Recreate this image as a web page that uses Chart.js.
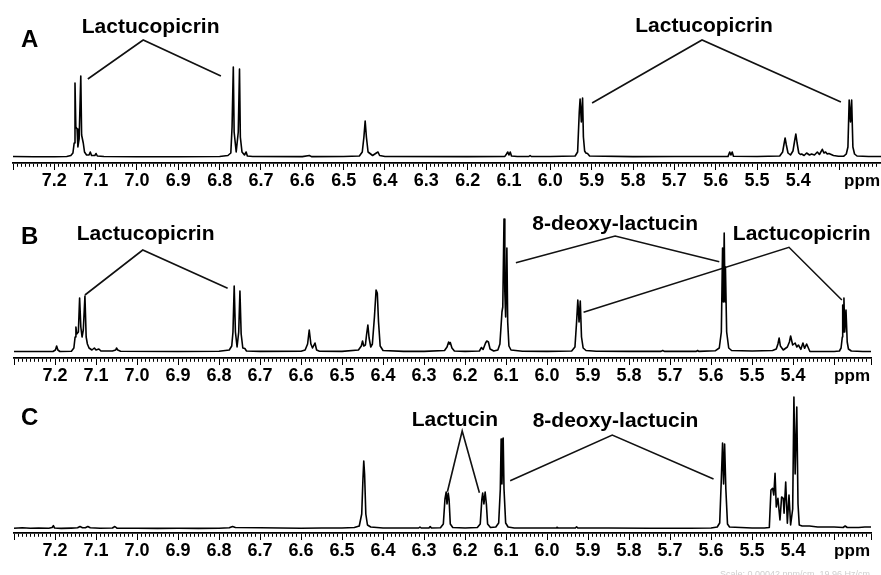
<!DOCTYPE html>
<html><head><meta charset="utf-8">
<script src="https://cdn.jsdelivr.net/npm/chart.js@4.4.1/dist/chart.umd.min.js"></script>
<style>
html,body{margin:0;padding:0;background:#fff;width:881px;height:575px;overflow:hidden;position:relative}
canvas{position:absolute;left:0}
#scale{position:absolute;left:720px;top:569px;font:9px "Liberation Sans",Arial,sans-serif;color:#cfcfcf;white-space:nowrap}
</style></head><body>
<canvas id="cA" width="881" height="195" style="top:0px"></canvas>
<canvas id="cB" width="881" height="190" style="top:195px"></canvas>
<canvas id="cC" width="881" height="190" style="top:385px"></canvas>
<div id="scale">Scale: 0.00042 ppm/cm, 19.96 Hz/cm</div>
<script>
// ---------- values ----------
const tickLabels = ['7.2','7.1','7.0','6.9','6.8','6.7','6.6','6.5','6.4','6.3','6.2','6.1','6.0','5.9','5.8','5.7','5.6','5.5','5.4'];
const unitLabel = 'ppm';
const panelLetters = ['A','B','C'];

// [ppm, intensity]
const specA = [
 [7.300,0.5],[7.250,0.3],[7.200,0.2],[7.170,0.5],
 [7.160,1.5],[7.155,4],[7.152,14],[7.150,74],[7.148,30],[7.145,28],[7.143,10],[7.140,18],[7.136,81],[7.134,22],[7.130,14],[7.127,5],[7.122,2],
 [7.116,2],[7.113,5],[7.110,1.5],[7.102,1.5],[7.099,3.5],[7.096,1],[7.080,0.5],[7.000,0.3],[6.900,0.3],[6.800,0.5],
 [6.780,1.5],[6.773,4],[6.770,30],[6.767,90],[6.765,25],[6.760,5],[6.755,25],[6.752,88],[6.750,20],[6.746,5],[6.740,2],[6.736,5],[6.733,1],
 [6.720,0.5],[6.600,0.4],[6.583,1.5],[6.578,0.4],[6.500,0.5],
 [6.462,1],[6.455,5],[6.451,20],[6.448,36],[6.445,20],[6.441,5],[6.430,1.5],[6.421,4],[6.417,5],[6.413,1.5],[6.400,0.5],
 [6.200,0.4],[6.110,0.6],[6.106,3],[6.103,5],[6.100,2],[6.097,5],[6.094,1],[6.080,0.5],[6.052,0.5],[6.049,1.5],[6.046,0.5],[6.000,0.5],
 [5.940,1],[5.934,5],[5.930,45],[5.928,58],[5.925,35],[5.922,59],[5.920,20],[5.917,6],[5.914,4],[5.910,3.5],[5.905,1],
 [5.800,0.4],[5.700,0.5],[5.570,0.6],[5.566,5],[5.563,2],[5.560,5],[5.557,0.8],[5.500,0.5],
 [5.445,1],[5.438,5],[5.435,12],[5.432,19],[5.429,12],[5.425,4],[5.419,2],[5.413,6],[5.409,16],[5.406,23],[5.403,14],[5.399,4],[5.395,2.5],
 [5.392,3],[5.386,1.5],[5.380,4],[5.373,2],[5.368,3],[5.361,2],[5.354,5],[5.349,2.5],[5.342,7.7],[5.338,4],[5.334,5],[5.330,3],[5.326,3.5],[5.315,1.5],[5.303,0.8],
 [5.290,0.8],[5.284,3],[5.280,10],[5.277,57],[5.2738,35],[5.271,57],[5.268,10],[5.264,3],[5.258,1],[5.230,0.5],[5.200,0.5]
];
const specB = [
 [7.300,0.5],[7.250,0.5],[7.205,0.5],[7.199,2],[7.196,6],[7.193,2],[7.188,0.5],[7.160,0.8],
 [7.154,4],[7.151,15],[7.149,25],[7.147,18],[7.143,20],[7.140,54],[7.137,25],[7.134,15],[7.131,22],[7.127,56],[7.124,15],[7.121,8],[7.117,4],
 [7.110,2],[7.104,4],[7.100,2],[7.093,3],[7.088,1],[7.060,1],[7.052,2],[7.050,4],[7.047,2],[7.040,0.8],[6.900,0.5],[6.800,0.8],
 [6.775,2],[6.769,6],[6.766,20],[6.763,66],[6.760,20],[6.756,5],[6.752,20],[6.749,61],[6.746,18],[6.742,4],[6.737,3.5],[6.733,1],
 [6.700,0.6],[6.600,0.7],[6.590,2],[6.584,8],[6.580,22],[6.576,8],[6.572,4],[6.566,9],[6.562,2],[6.555,0.8],[6.500,0.6],
 [6.460,2],[6.453,6],[6.450,11],[6.447,6],[6.443,7],[6.440,18],[6.437,27],[6.434,14],[6.430,5],[6.426,8],[6.421,35],[6.417,62],[6.414,59],[6.411,30],[6.407,6],[6.400,1.5],
 [6.350,0.6],[6.300,0.6],[6.250,1.5],[6.244,5],[6.240,10],[6.238,8],[6.236,9.5],[6.232,4],[6.226,1],[6.200,0.6],
 [6.165,1],[6.160,4.5],[6.156,2.5],[6.150,9],[6.147,11],[6.143,10],[6.139,3],[6.130,1],
 [6.120,2],[6.115,8],[6.110,40],[6.108,45],[6.105,133],[6.103,60],[6.101,35],[6.098,104],[6.096,30],[6.093,6],[6.088,2],[6.060,0.8],[6.000,0.6],
 [5.940,1],[5.932,5],[5.928,30],[5.925,52],[5.922,30],[5.919,51],[5.916,15],[5.912,4],[5.905,1.5],[5.880,0.7],[5.800,0.6],
 [5.722,0.6],[5.718,1.5],[5.714,0.6],[5.636,0.6],[5.633,1.5],[5.630,0.6],
 [5.590,1.2],[5.580,4],[5.575,20],[5.572,104],[5.570,50],[5.568,119],[5.566,50],[5.565,85],[5.562,20],[5.557,4],[5.550,1.5],[5.500,1],
 [5.450,1.5],[5.441,3],[5.437,8],[5.434,14],[5.431,6],[5.424,2],[5.414,5],[5.409,10],[5.406,16],[5.401,7],[5.395,9],[5.391,5],[5.387,7],[5.381,2.7],
 [5.376,9],[5.372,3.7],[5.367,8],[5.359,0.5],[5.300,0.5],
 [5.287,1],[5.283,4],[5.280,15],[5.279,47],[5.277,20],[5.276,54],[5.274,20],[5.271,42],[5.268,10],[5.265,3],[5.258,1],[5.230,0.5],[5.210,0.5]
];
const specC = [
 [7.300,0.8],[7.280,1.2],[7.260,0.8],[7.240,1],[7.215,0.8],[7.207,1.5],[7.204,3.3],[7.201,1],[7.185,0.6],[7.160,0.9],
 [7.145,1.2],[7.139,2.5],[7.133,1.3],[7.126,1.3],[7.120,2.5],[7.114,1.2],[7.090,0.8],[7.060,1],[7.054,2.5],[7.049,0.8],
 [7.000,0.8],[6.950,0.6],[6.900,0.8],[6.850,0.6],[6.800,0.8],[6.775,1.2],[6.767,2.5],[6.760,1.5],[6.700,1.2],[6.650,1],[6.600,0.8],[6.550,1],[6.500,1],
 [6.470,1.5],[6.458,3],[6.452,15],[6.449,50],[6.447,68],[6.445,55],[6.442,15],[6.438,4],[6.430,2],[6.400,1],[6.350,1],
 [6.313,1],[6.310,2],[6.307,1],[6.288,1],[6.285,2.5],[6.282,1],
 [6.260,1.2],[6.253,5],[6.249,30],[6.246,37],[6.244,25],[6.241,36],[6.239,30],[6.236,5],[6.230,1.5],[6.200,1],
 [6.170,1.5],[6.163,5],[6.159,30],[6.157,36],[6.154,25],[6.151,37],[6.148,25],[6.145,5],[6.138,1.5],
 [6.125,2],[6.118,6],[6.114,40],[6.112,90],[6.110,45],[6.107,91],[6.105,40],[6.101,6],[6.095,2],[6.080,1],[6.000,1],
 [5.978,1],[5.976,1.8],[5.973,1],[5.931,1],[5.928,2.2],[5.925,1],[5.850,1],[5.750,0.8],[5.650,0.8],[5.600,1],
 [5.585,2],[5.579,6],[5.575,50],[5.572,86],[5.5695,45],[5.567,85],[5.564,40],[5.560,5],[5.555,2],[5.500,1],[5.470,1],
 [5.458,1.5],[5.454,39],[5.450,40.7],[5.447,34],[5.444,55.7],[5.441,22],[5.437,30.7],[5.432,9],[5.428,32],[5.424,30.7],[5.422,15.7],
 [5.418,47],[5.414,5.7],[5.410,34],[5.406,4],[5.401,20],[5.398,132],[5.395,55],[5.391,122],[5.388,25],[5.385,4],
 [5.378,3],[5.360,3],[5.340,2],[5.300,2],[5.278,1.5],[5.273,3],[5.268,1.5],[5.240,1.5],[5.225,2],[5.210,2]
];

// annotation connector lines, [ppm, intensity]
const linesA = [
 [[7.119,78],[6.985,117],[6.797,81]],
 [[5.899,54],[5.633,117],[5.297,55]]
];
const linesB = [
 [[7.127,57],[6.986,102],[6.779,63.7]],
 [[6.076,89.3],[5.834,116],[5.580,90.3]],
 [[5.911,39.7],[5.410,104.7],[5.281,52]]
];
const linesC = [
 [[6.243,37.3],[6.207,98],[6.165,36.3]],
 [[6.090,48.3],[5.841,94],[5.594,50]]
];
// annotation labels [text, ppm, intensity]
const textA = [['Lactucopicrin',6.967,129.5],['Lactucopicrin',5.628,130.3]];
const textB = [['Lactucopicrin',6.979,118],['8-deoxy-lactucin',5.834,127.7],['Lactucopicrin',5.379,118]];
const textC = [['Lactucin',6.225,108.3],['8-deoxy-lactucin',5.833,107.3]];

// ---------- layout ----------
const FONT = '"Liberation Sans", Arial, Helvetica, sans-serif';
const panels = [
 {id:'cA', letter:panelLetters[0], height:195, axisY:163, baseY:157, left:13, right:881, min:5.20, max:7.30, spec:specA, lines:linesA, texts:textA, letterY:40},
 {id:'cB', letter:panelLetters[1], height:190, axisY:163, baseY:157, left:14, right:871, min:5.21, max:7.30, spec:specB, lines:linesB, texts:textB, letterY:42.5},
 {id:'cC', letter:panelLetters[2], height:190, axisY:148, baseY:144, left:14, right:871, min:5.21, max:7.30, spec:specC, lines:linesC, texts:textC, letterY:33.5}
];

function makeChart(cfg) {
  const lo = Math.round(cfg.min*100), hi = Math.round(cfg.max*100);
  const tickIdx = [];
  for (let i = lo; i <= hi; i++) tickIdx.push(i);
  const datasets = [{
    data: cfg.spec.map(p => ({x:p[0], y:p[1]})),
    borderColor:'#000', borderWidth:1.6, pointRadius:0, tension:0,
    borderJoinStyle:'round', clip:false
  }];
  cfg.lines.forEach(l => datasets.push({
    data: l.map(p => ({x:p[0], y:p[1]})),
    borderColor:'#111', borderWidth:1.6, pointRadius:0, tension:0, clip:false
  }));
  const textPlugin = {
    id:'texts'+cfg.id,
    afterDraw(chart) {
      const ctx = chart.ctx, xs = chart.scales.x, ys = chart.scales.y;
      ctx.save();
      ctx.fillStyle = '#000';
      ctx.textAlign = 'center'; ctx.textBaseline = 'middle';
      ctx.font = 'bold 21px ' + FONT;
      cfg.texts.forEach(t => ctx.fillText(t[0], xs.getPixelForValue(t[1]), ys.getPixelForValue(t[2])));
      ctx.textAlign = 'left';
      ctx.font = 'bold 24px ' + FONT;
      ctx.fillText(cfg.letter, 21, cfg.letterY);
      ctx.textAlign = 'right';
      ctx.font = 'bold 17px ' + FONT;
      ctx.fillText(unitLabel, chart.chartArea.right - 1, cfg.axisY + 18);
      ctx.restore();
    }
  };
  return new Chart(document.getElementById(cfg.id), {
    type:'line',
    data:{datasets},
    options:{
      responsive:false, animation:false, events:[],
      layout:{padding:{left:cfg.left, right:881-cfg.right, top:0, bottom:0}, autoPadding:false},
      plugins:{legend:{display:false}, tooltip:{enabled:false}},
      scales:{
        x:{
          type:'linear', reverse:true, min:cfg.min, max:cfg.max,
          afterBuildTicks: s => { s.ticks = tickIdx.map(i => ({value:i/100})); },
          afterFit: s => { s.height = cfg.height - cfg.axisY; },
          grid:{
            display:true, drawOnChartArea:false, drawTicks:true, tickLength:7, tickWidth:1, tickColor:'#000',
            tickBorderDash: c => {
              const i = Math.round(c.tick.value*100);
              return (i % 10 === 0 || i === lo || i === hi) ? [] : [3, 60];
            }
          },
          border:{display:true, color:'#000', width:1.8},
          ticks:{
            autoSkip:false, maxRotation:0, minRotation:0, padding:0, color:'#000',
            font:{family:FONT, size:18, weight:'bold'},
            callback: v => {
              const i = Math.round(v*100);
              const s = (i/100).toFixed(1);
              return (i % 10 === 0 && tickLabels.includes(s)) ? s : '';
            }
          }
        },
        y:{type:'linear', display:false, min:-(cfg.axisY-cfg.baseY), max:cfg.baseY}
      }
    },
    plugins:[textPlugin]
  });
}
panels.forEach(makeChart);
</script>
</body></html>
